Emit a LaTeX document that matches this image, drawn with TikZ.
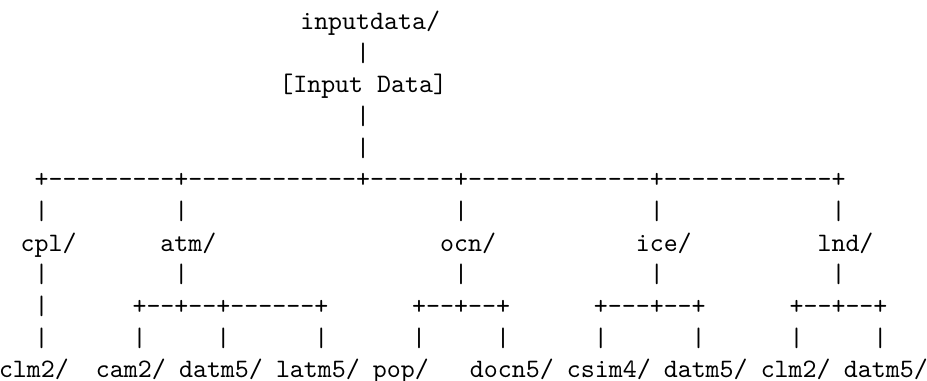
\documentclass[tikz,border=0pt]{standalone}
\newcommand\dd[1]{\foreach \k in {1,...,#1}{-\kern0pt}}
\begin{document}
\begin{tikzpicture}[x=0.37554pt,y=-0.37554pt,
  tt/.style={inner sep=0pt,outer sep=0pt,anchor=base west,font=\ttfamily}]
\def\ox{6.7}\def\cw{13.98}\def\ry{31.68}\def\ya{29.5}
\def\bx{-1}\def\bw{13.85}
\fill[white] (0,0) rectangle (927,381);
\useasboundingbox (0,0) rectangle (927,381);
% top
\node[tt] (root) at (\ox+\cw*21,\ya) {inputdata/};
\node[tt] (p1) at (\ox+\cw*25,\ya+\ry*1) {|};
\node[tt] (input) at (\ox+\cw*19.5,\ya+\ry*2) {[Input Data]};
\node[tt] (p3) at (\ox+\cw*25,\ya+\ry*3) {|};
\node[tt] (p4) at (\ox+\cw*25,\ya+\ry*4) {|};
\node[tt] (bar) at (\ox+\cw*2,\ya+\ry*5) {+\dd{9}+\dd{12}+\dd{6}+\dd{13}+\dd{12}+};
% row 6
\foreach \c [count=\i] in {2,12,32,46,59}
  \node[tt] (r6p\i) at (\ox+\cw*\c,\ya+\ry*6) {|};
% row 7 labels
\node[tt] (cpl) at (\ox+\cw*1,\ya+\ry*7) {cpl/};
\node[tt] (atm) at (\ox+\cw*11,\ya+\ry*7) {atm/};
\node[tt] (ocn) at (\ox+\cw*31,\ya+\ry*7) {ocn/};
\node[tt] (ice) at (\ox+\cw*45,\ya+\ry*7) {ice/};
\node[tt] (lnd) at (\ox+\cw*58,\ya+\ry*7) {lnd/};
% row 8
\foreach \c [count=\i] in {2,12,32,46,59}
  \node[tt] (r8p\i) at (\ox+\cw*\c,\ya+\ry*8) {|};
% row 9
\node[tt] (r9p1) at (\ox+\cw*2,\ya+\ry*9) {|};
\node[tt] (atmbar) at (\ox+\cw*9,\ya+\ry*9) {+\dd{2}+\dd{2}+\dd{6}+};
\node[tt] (ocnbar) at (\ox+\cw*29,\ya+\ry*9) {+\dd{2}+\dd{2}+};
\node[tt] (icebar) at (\ox+\cw*42,\ya+\ry*9) {+\dd{3}+\dd{2}+};
\node[tt] (lndbar) at (\ox+\cw*56,\ya+\ry*9) {+\dd{2}+\dd{2}+};
% row 10
\foreach \c [count=\i] in {2,9,15,22,29,35,42,49,56,62}
  \node[tt] (r10p\i) at (\ox+\cw*\c,\ya+\ry*10) {|};
% row 11 labels
\foreach \c/\t/\n in {0/{clm2/}/cplclm,7/{cam2/}/cam,13/{datm5/}/adatm,20/{latm5/}/latm,27/{pop/}/pop,34/{docn5/}/docn,41/{csim4/}/csim,48/{datm5/}/idatm,55/{clm2/}/lclm,61/{datm5/}/ldatm}
  \node[tt] (\n) at (\bx+\bw*\c,\ya+\ry*11) {\t};
\end{tikzpicture}
\end{document}
